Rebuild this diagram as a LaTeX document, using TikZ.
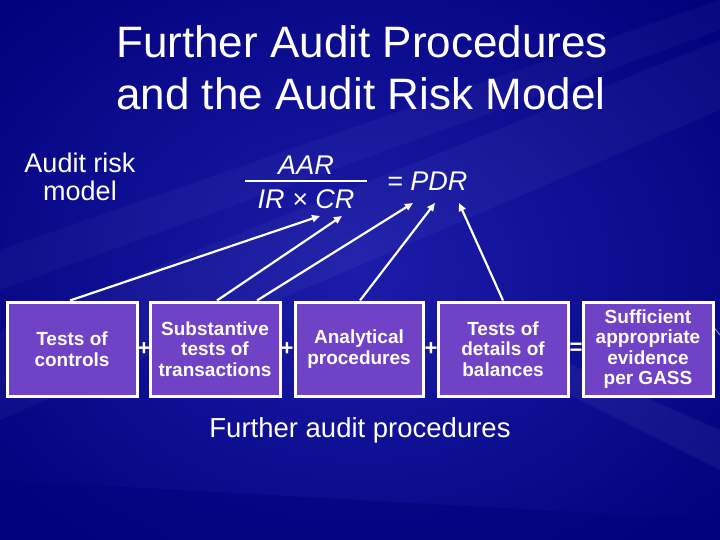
\documentclass[tikz,border=0pt]{standalone}
\usepackage{fontspec}
\setmainfont{Liberation Sans}
\usetikzlibrary{arrows.meta,calc}
\definecolor{bgdark}{RGB}{2,2,125}
\definecolor{bgmid}{RGB}{28,28,170}
\definecolor{boxfill}{RGB}{112,66,198}
\begin{document}
\begin{tikzpicture}[x=1pt,y=-1pt,
  box/.style={draw=white, line width=3pt, fill=boxfill, minimum width=130pt,
    minimum height=94pt, inner sep=0pt, align=center, text=white,
    font=\fontsize{19}{20.5}\selectfont\bfseries},
  op/.style={text=white, font=\fontsize{22}{22}\selectfont\bfseries, inner sep=0pt},
  lbl/.style={text=white, inner sep=0pt},
  arr/.style={white, line width=2.2pt, -{Triangle[length=8pt,width=7pt]}}]
\useasboundingbox (0,0) rectangle (720,540);
% background
\shade[inner color=bgmid, outer color=bgdark] (-120,-100) rectangle (840,640);
\fill[white, opacity=0.035] (0,330) -- (720,40) -- (720,110) -- (0,420) -- cycle;
\fill[white, opacity=0.03] (0,250) -- (720,0) -- (720,30) -- (0,290) -- cycle;
\fill[white, opacity=0.05] (560,360) -- (720,430) -- (720,470) -- (560,390) -- cycle;
\fill[bgdark, opacity=0.5] (0,480) -- (720,520) -- (720,540) -- (0,540) -- cycle;
\draw[white, opacity=0.6, line width=0.8pt] (712,325) -- (720,335);
% title
\node[lbl, anchor=base west, font=\fontsize{44}{44}\selectfont] (title1) at (116,58) {Further Audit Procedures};
\node[lbl, anchor=base west, font=\fontsize{44}{44}\selectfont] (title2) at (116,110) {and the Audit Risk Model};
% audit risk model
\node[lbl, anchor=base, font=\fontsize{27}{27}\selectfont] (arm1) at (80,173) {Audit risk};
\node[lbl, anchor=base, font=\fontsize{27}{27}\selectfont] (arm2) at (80,201) {model};
% fraction
\node[lbl, anchor=base, font=\fontsize{27}{27}\selectfont\itshape] (num) at (306,175) {AAR};
\node[lbl, anchor=base, font=\fontsize{27}{27}\selectfont\itshape] (den) at (306,208) {IR × CR};
\draw[white, line width=2pt] (245,181) -- (367,181);
\node[lbl, anchor=base west, font=\fontsize{27}{27}\selectfont\itshape] (pdr) at (387,191) {= PDR};
% boxes
\node[box] (b1) at (72,349) {Tests of\\controls};
\node[box] (b2) at (215,349) {Substantive\\tests of\\transactions};
\node[box, minimum width=128pt] (b3) at (359,349) {Analytical\\procedures};
\node[box] (b4) at (503,349) {Tests of\\details of\\balances};
\node[box] (b5) at (648,349) {Sufficient\\appropriate\\evidence\\per GASS};
\node[op] (p1) at (144,349) {+};
\node[op] (p2) at (287,349) {+};
\node[op] (p3) at (431,349) {+};
\node[op] (eq) at (576,349) {=};
% caption
\node[lbl, anchor=base, font=\fontsize{27.5}{27.5}\selectfont] (cap) at (360,437) {Further audit procedures};
% arrow targets
\coordinate (t1) at (320,216);
\coordinate (t2) at (342,216);
\coordinate (t3) at (413,203);
\coordinate (t4) at (435,203);
\coordinate (t5) at (459,203);
\draw[arr] ($(b1.north)+(-2,0)$) -- (t1);
\draw[arr] ($(b2.north)+(2,0)$) -- (t2);
\draw[arr] ($(b2.north)+(42,0)$) -- (t3);
\draw[arr] ($(b3.north)+(1,0)$) -- (t4);
\draw[arr] (b4.north) -- (t5);
\end{tikzpicture}
\end{document}
